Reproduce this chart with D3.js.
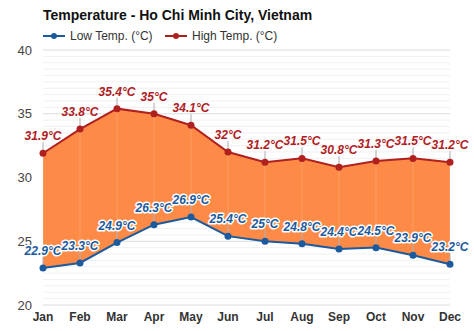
<!DOCTYPE html>
<html lang="en">
<head>
<meta charset="UTF-8">
<title>Temperature - Ho Chi Minh City</title>
<script src="https://cdn.jsdelivr.net/npm/d3@7/dist/d3.min.js"></script>
<style>
    body { margin: 0; background: #fff; }
    text { font-family: "Liberation Sans", Arial, Helvetica, sans-serif; }
</style>
</head>
<body>
<div id="chart"></div>
<script>
    var months = ["Jan", "Feb", "Mar", "Apr", "May", "Jun", "Jul", "Aug", "Sep", "Oct", "Nov", "Dec"];
    var lowTemp = [22.9, 23.3, 24.9, 26.3, 26.9, 25.4, 25, 24.8, 24.4, 24.5, 23.9, 23.2];
    var highTemp = [31.9, 33.8, 35.4, 35, 34.1, 32, 31.2, 31.5, 30.8, 31.3, 31.5, 31.2];
    var yTicks = [20, 25, 30, 35, 40];

    var width = 474, height = 331;
    var lowColor = "#1c5a9e", highColor = "#b0201f", fillColor = "#fd8a46";

    var svg = d3.select("#chart").append("svg")
        .attr("width", width)
        .attr("height", height);

    var x = d3.scalePoint().domain(months).range([43, 450]);
    var y = d3.scaleLinear().domain([20, 40]).range([305, 50]);

    // minor grid every 0.5
    svg.append("g").selectAll("line")
        .data(d3.range(20, 40.01, 0.5))
        .enter().append("line")
        .attr("x1", 43).attr("x2", 450)
        .attr("y1", function (d) { return y(d); })
        .attr("y2", function (d) { return y(d); })
        .attr("stroke", function (d) { return d % 5 === 0 ? "#dcdcdc" : "#f1f1f1"; })
        .attr("stroke-width", 1);

    // y axis labels
    svg.append("g").selectAll("text")
        .data(yTicks)
        .enter().append("text")
        .attr("x", 32)
        .attr("y", function (d) { return y(d); })
        .attr("dy", "0.35em")
        .attr("text-anchor", "end")
        .attr("font-size", 13)
        .attr("fill", "#444")
        .text(function (d) { return d; });

    // band between low and high
    var area = d3.area()
        .x(function (d, i) { return x(months[i]); })
        .y0(function (d, i) { return y(lowTemp[i]); })
        .y1(function (d) { return y(d); });

    svg.append("path")
        .datum(highTemp)
        .attr("d", area)
        .attr("fill", fillColor);

    // faint vertical lines inside band
    svg.append("g").selectAll("line")
        .data(months)
        .enter().append("line")
        .attr("x1", function (d) { return x(d); })
        .attr("x2", function (d) { return x(d); })
        .attr("y1", function (d, i) { return y(highTemp[i]); })
        .attr("y2", function (d, i) { return y(lowTemp[i]); })
        .attr("stroke", "#ffffff")
        .attr("stroke-opacity", 0.18);

    function drawSeries(values, color) {
        var line = d3.line()
            .x(function (d, i) { return x(months[i]); })
            .y(function (d) { return y(d); });

        // label ticks
        svg.append("g").selectAll("line")
            .data(values)
            .enter().append("line")
            .attr("x1", function (d, i) { return x(months[i]); })
            .attr("x2", function (d, i) { return x(months[i]); })
            .attr("y1", function (d) { return y(d) - 3; })
            .attr("y2", function (d) { return y(d) - 11; })
            .attr("stroke", "#aaa")
            .attr("stroke-width", 1);

        svg.append("path")
            .datum(values)
            .attr("d", line)
            .attr("fill", "none")
            .attr("stroke", color)
            .attr("stroke-width", 2);

        svg.append("g").selectAll("circle")
            .data(values)
            .enter().append("circle")
            .attr("cx", function (d, i) { return x(months[i]); })
            .attr("cy", function (d) { return y(d); })
            .attr("r", 3.5)
            .attr("fill", color);
    }

    drawSeries(highTemp, highColor);
    drawSeries(lowTemp, lowColor);

    function drawLabels(values, color, halo) {
        var g = svg.append("g");
        var t = g.selectAll("text")
            .data(values)
            .enter().append("text")
            .attr("x", function (d, i) { return x(months[i]); })
            .attr("y", function (d) { return y(d) - 13; })
            .attr("text-anchor", "middle")
            .attr("font-size", 12)
            .attr("font-weight", "bold")
            .attr("font-style", "italic")
            .attr("fill", color)
            .text(function (d) { return d + "°C"; });
        if (halo) {
            t.attr("stroke", "#fff")
                .attr("stroke-width", 3)
                .attr("paint-order", "stroke")
                .attr("stroke-linejoin", "round");
        }
    }

    drawLabels(highTemp, highColor, false);
    drawLabels(lowTemp, lowColor, true);

    // x axis labels
    svg.append("g").selectAll("text")
        .data(months)
        .enter().append("text")
        .attr("x", function (d) { return x(d); })
        .attr("y", 321)
        .attr("text-anchor", "middle")
        .attr("font-size", 12)
        .attr("font-weight", "bold")
        .attr("fill", "#333")
        .text(function (d) { return d; });

    // title
    svg.append("text")
        .attr("x", 43)
        .attr("y", 20)
        .attr("font-size", 14)
        .attr("font-weight", "bold")
        .attr("fill", "#111")
        .text("Temperature - Ho Chi Minh City, Vietnam");

    // legend
    var legendData = [
        {name: "Low Temp. (°C)", color: lowColor, x: 43},
        {name: "High Temp. (°C)", color: highColor, x: 165}
    ];
    var legend = svg.append("g").selectAll("g")
        .data(legendData)
        .enter().append("g")
        .attr("transform", function (d) { return "translate(" + d.x + ",36)"; });

    legend.append("line")
        .attr("x1", 0).attr("x2", 22)
        .attr("stroke", function (d) { return d.color; })
        .attr("stroke-width", 2);
    legend.append("circle")
        .attr("cx", 11).attr("r", 3)
        .attr("fill", function (d) { return d.color; });
    legend.append("text")
        .attr("x", 27)
        .attr("dy", "0.35em")
        .attr("font-size", 12)
        .attr("fill", "#333")
        .text(function (d) { return d.name; });
</script>
</body>
</html>
